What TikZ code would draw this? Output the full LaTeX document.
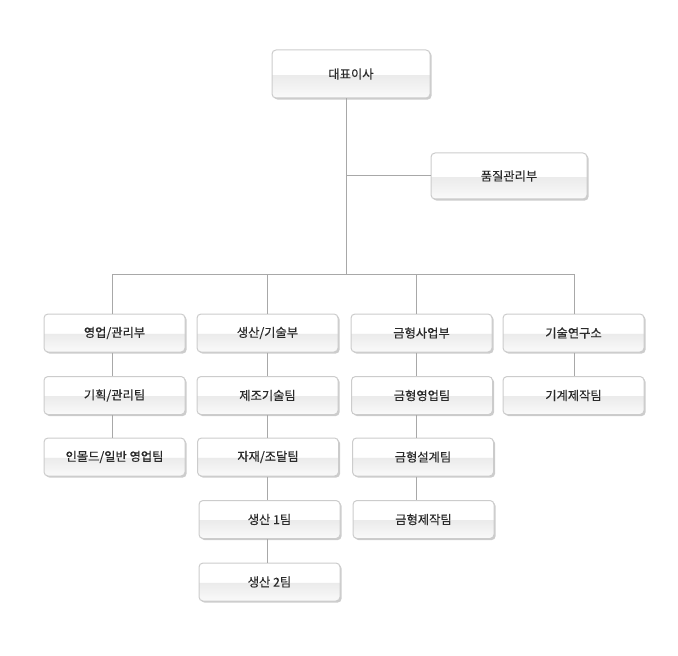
\documentclass[tikz,border=0pt]{standalone}
\usepackage{fontspec}
\setmainfont{Noto Sans CJK KR}[RawFeature={embolden=0.4}]
\usetikzlibrary{shadows}
\pgfdeclareverticalshading{boxshade}{100bp}{color(0bp)=(white); color(25bp)=(white!98!black); color(49.5bp)=(white!92!black); color(50bp)=(white); color(100bp)=(white)}
\definecolor{linegray}{HTML}{A8A8A8}
\definecolor{boxborder}{HTML}{CCCCCC}
\definecolor{txt}{HTML}{2A2A2A}
\tikzset{
  orgbox/.style={draw=boxborder, line width=0.75pt, rounded corners=3pt,
    shading=boxshade, minimum width=105.75pt, minimum height=28.5pt,
    inner sep=0pt, text=txt, font=\fontsize{9.2pt}{10pt}\selectfont,
    drop shadow={shadow xshift=1.2pt, shadow yshift=-1.2pt, opacity=0.2, fill=black}},
  link/.style={draw=linegray, line width=0.75pt}
}
\begin{document}
\begin{tikzpicture}[x=0.75pt,y=-0.75pt]
\useasboundingbox (0,0) rectangle (678,656);
% top
\node[orgbox, minimum width=118.5pt, minimum height=36pt] (ceo) at (351,74) {대표이사};
\node[orgbox, minimum width=117pt, minimum height=34.5pt] (qa) at (509,176) {품질관리부};
% column 1
\node[orgbox] (a1) at (114.5,333) {영업/관리부};
\node[orgbox] (a2) at (114.5,395.5) {기획/관리팀};
\node[orgbox] (a3) at (114.5,457) {인몰드/일반 영업팀};
% column 2
\node[orgbox] (b1) at (267.5,333) {생산/기술부};
\node[orgbox] (b2) at (267.5,395.5) {제조기술팀};
\node[orgbox] (b3) at (268,457) {자재/조달팀};
\node[orgbox] (b4) at (269.5,519.5) {생산 1팀};
\node[orgbox] (b5) at (269.5,582) {생산 2팀};
% column 3
\node[orgbox] (c1) at (421.5,333) {금형사업부};
\node[orgbox] (c2) at (422,395.5) {금형영업팀};
\node[orgbox] (c3) at (423,457) {금형설계팀};
\node[orgbox] (c4) at (423.5,519.5) {금형제작팀};
% column 4
\node[orgbox] (d1) at (573.5,333) {기술연구소};
\node[orgbox] (d2) at (573.5,395.5) {기계제작팀};
% guide coordinates
\coordinate (xm) at (346,274);
\coordinate (xa) at (112,274);
\coordinate (xb) at (267,274);
\coordinate (xc) at (416,274);
\coordinate (xd) at (574,274);
% connectors
\draw[link] (ceo.south -| xm) -- (xm);
\draw[link] (qa.west -| xm) -- (qa.west);
\draw[link] (xa) -- (xd);
\draw[link] (xa) -- (a1.north -| xa);
\draw[link] (xb) -- (b1.north -| xb);
\draw[link] (xc) -- (c1.north -| xc);
\draw[link] (xd) -- (d1.north -| xd);
\draw[link] (a1.south -| xa) -- (a2.north -| xa);
\draw[link] (a2.south -| xa) -- (a3.north -| xa);
\draw[link] (b1.south -| xb) -- (b2.north -| xb);
\draw[link] (b2.south -| xb) -- (b3.north -| xb);
\draw[link] (b3.south -| xb) -- (b4.north -| xb);
\draw[link] (b4.south -| xb) -- (b5.north -| xb);
\draw[link] (c1.south -| xc) -- (c2.north -| xc);
\draw[link] (c2.south -| xc) -- (c3.north -| xc);
\draw[link] (c3.south -| xc) -- (c4.north -| xc);
\draw[link] (d1.south -| xd) -- (d2.north -| xd);
\end{tikzpicture}
\end{document}
